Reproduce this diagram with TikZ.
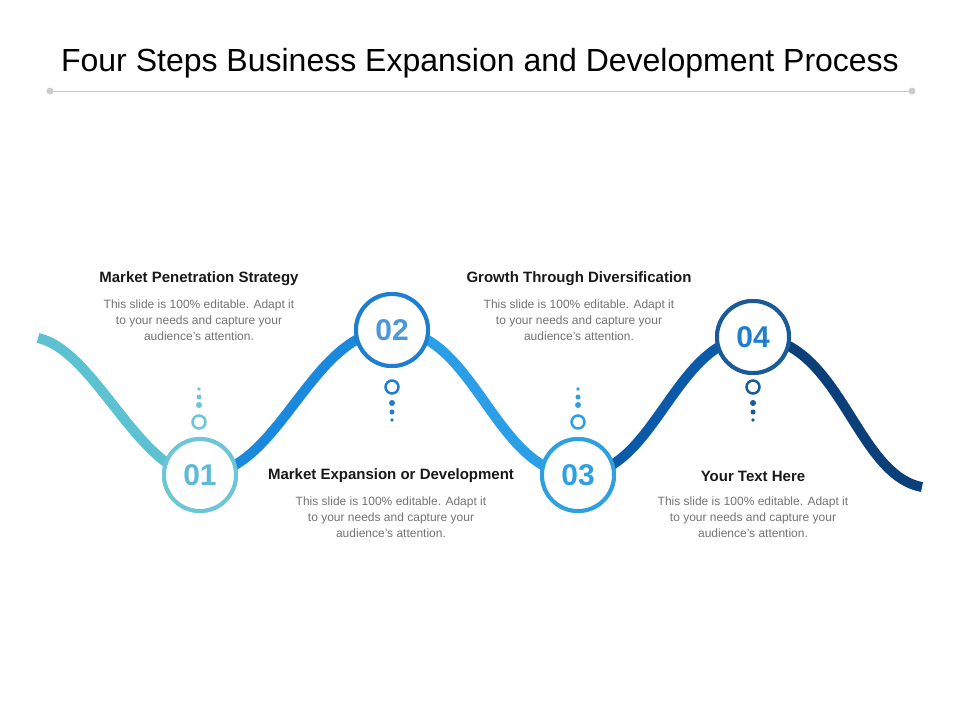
\documentclass[tikz,border=0pt]{standalone}
\usepackage{fontspec}
\setmainfont{Liberation Sans}
\begin{document}
\begin{tikzpicture}[x=1pt,y=-1pt,
  wave/.style={line width=10pt},
  stepcirc/.style={circle,fill=white,line width=4pt,minimum size=72pt,inner sep=0pt,font=\fontsize{30}{30}\selectfont\bfseries},
  ring/.style={circle,draw,line width=2.5pt,minimum size=13pt,inner sep=0pt},
  head/.style={font=\fontsize{15}{18}\selectfont\bfseries,text=black!90},
  body/.style={font=\fontsize{12}{16}\selectfont,text=black!55,align=center}]
\definecolor{cA}{HTML}{5CC2D2}\definecolor{cAd}{HTML}{2A9AAE}
\definecolor{cB}{HTML}{1A88DC}\definecolor{cC}{HTML}{2A9EE6}
\definecolor{cD}{HTML}{0B5AAA}\definecolor{cE}{HTML}{0B3F7A}
\definecolor{rA}{HTML}{6CC6D6}\definecolor{rB}{HTML}{1E7FD0}
\definecolor{rC}{HTML}{2EA0E0}\definecolor{rD}{HTML}{1A5A98}
\useasboundingbox (0,0) rectangle (960,720);
\fill[white] (0,0) rectangle (960,720);
% title
\node (title) at (480,63) {\fontsize{32}{36}\selectfont Four Steps Business Expansion and Development Process};
\coordinate (l1) at (50,91); \coordinate (l2) at (912,91);
\draw[black!20,line width=1pt] (l1) -- (l2);
\fill[black!20] (l1) circle (3.5pt) (l2) circle (3.5pt);
% nodes
\node[stepcirc,draw=rA,text=rA!80!cB] (n1) at (200,475) {01};
\node[stepcirc,draw=rB,text=rB!80!white] (n2) at (392,330) {02};
\node[stepcirc,draw=rC,text=rC] (n3) at (578,475) {03};
\node[stepcirc,draw=rD,text=rB] (n4) at (753,337) {04};
\coordinate (ws) at (38,338); \coordinate (we) at (922,487);
% wave (drawn behind circles)
\begin{scope}[on background layer/.try]
\end{scope}
\draw[wave,cA] (ws) .. controls (95,350) and (140,475) .. (n1.center);
\draw[wave,cB] (n1.center) .. controls (280,475) and (310,330) .. (n2.center);
\draw[wave,cC] (n2.center) .. controls (475,330) and (495,475) .. (n3.center);
\draw[wave,cD] (n3.center) .. controls (655,475) and (675,337) .. (n4.center);
\draw[wave,cE] (n4.center) .. controls (840,337) and (855,475) .. (we);
% redraw circles on top
\node[stepcirc,draw=rA,text=rA!80!cB] at (n1) {01};
\node[stepcirc,draw=rB,text=rB!80!white] at (n2) {02};
\node[stepcirc,draw=rC,text=rC] at (n3) {03};
\node[stepcirc,draw=rD,text=rB] at (n4) {04};
% rings and dots
\node[ring,draw=rA] (r1) at (199,422) {};
\fill[rA] (199,405) circle (3pt) (199,397) circle (2.5pt) (199,389) circle (1.8pt);
\node[ring,draw=rB] (r2) at (392,387) {};
\fill[rB] (392,403) circle (3pt) (392,412) circle (2.5pt) (392,420) circle (1.8pt);
\node[ring,draw=rC] (r3) at (578,422) {};
\fill[rC] (578,405) circle (3pt) (578,397) circle (2.5pt) (578,389) circle (1.8pt);
\node[ring,draw=rD] (r4) at (753,387) {};
\fill[rD] (753,403) circle (3pt) (753,412) circle (2.5pt) (753,420) circle (1.8pt);
% texts
\node[head] (h1) at (199,279) {Market Penetration Strategy};
\node[body] (b1) at (199,320) {This slide is 100\% editable. Adapt it\\to your needs and capture your\\audience's attention.};
\node[head] (h2) at (579,279) {Growth Through Diversification};
\node[body] (b2) at (579,320) {This slide is 100\% editable. Adapt it\\to your needs and capture your\\audience's attention.};
\node[head] (h3) at (391,476) {Market Expansion or Development};
\node[body] (b3) at (391,517) {This slide is 100\% editable. Adapt it\\to your needs and capture your\\audience's attention.};
\node[head] (h4) at (753,476) {Your Text Here};
\node[body] (b4) at (753,517) {This slide is 100\% editable. Adapt it\\to your needs and capture your\\audience's attention.};
\end{tikzpicture}
\end{document}
